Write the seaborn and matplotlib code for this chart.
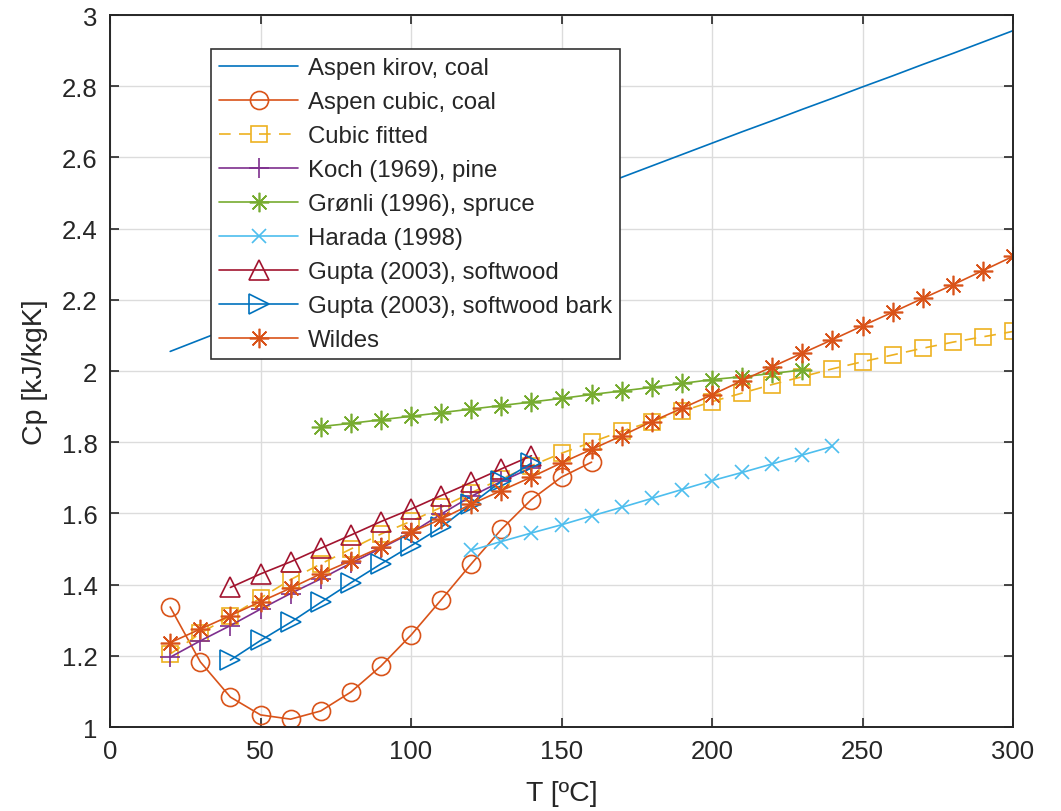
import numpy as np
import pandas as pd
import matplotlib
matplotlib.use("Agg")
import matplotlib.pyplot as plt
import seaborn as sns

# ---------------- data ----------------
T_kirov = [20, 30, 40, 50, 60, 70, 80, 90, 100, 110, 120, 130, 140, 150, 160,
           170, 180, 190, 200, 210, 220, 230, 240, 250, 260, 270, 280, 290, 300]
cp_kirov = [2.055, 2.088, 2.121, 2.154, 2.187, 2.220, 2.253, 2.286, 2.318, 2.351,
            2.383, 2.416, 2.448, 2.480, 2.512, 2.544, 2.576, 2.608, 2.640, 2.672,
            2.703, 2.735, 2.766, 2.798, 2.829, 2.861, 2.892, 2.924, 2.956]

T_cubic = [20, 30, 40, 50, 60, 70, 80, 90, 100, 110, 120, 130, 140, 150, 160]
cp_cubic = [1.337, 1.183, 1.084, 1.034, 1.022, 1.045, 1.098, 1.171, 1.258, 1.357,
            1.458, 1.555, 1.639, 1.702, 1.744]

T_fit = [20, 30, 40, 50, 60, 70, 80, 90, 100, 110, 120, 130, 140, 150, 160,
         170, 180, 190, 200, 210, 220, 230, 240, 250, 260, 270, 280, 290, 300]
cp_fit = [1.205, 1.263, 1.312, 1.362, 1.414, 1.458, 1.500, 1.542, 1.578, 1.617,
          1.658, 1.697, 1.734, 1.769, 1.800, 1.831, 1.858, 1.887, 1.914, 1.938,
          1.962, 1.984, 2.006, 2.026, 2.045, 2.064, 2.081, 2.096, 2.111]

T_koch = [20, 30, 40, 50, 60, 70, 80, 90, 100, 110, 120, 130, 140]
cp_koch = [1.196, 1.242, 1.285, 1.331, 1.375, 1.416, 1.460, 1.502, 1.545, 1.598,
           1.648, 1.690, 1.728]

T_gronli = [70, 80, 90, 100, 110, 120, 130, 140, 150, 160, 170, 180, 190, 200,
            210, 220, 230]
cp_gronli = [1.844, 1.853, 1.863, 1.873, 1.883, 1.893, 1.903, 1.913, 1.923, 1.934,
             1.944, 1.954, 1.965, 1.976, 1.984, 1.993, 2.003]

T_harada = [120, 130, 140, 150, 160, 170, 180, 190, 200, 210, 220, 230, 240]
cp_harada = [1.496, 1.521, 1.545, 1.568, 1.593, 1.617, 1.642, 1.667, 1.692, 1.715,
             1.739, 1.764, 1.788]

T_gupta = [40, 50, 60, 70, 80, 90, 100, 110, 120, 130, 140]
cp_gupta_soft = [1.392, 1.430, 1.464, 1.502, 1.539, 1.577, 1.612, 1.650, 1.687,
                 1.725, 1.762]
cp_gupta_bark = [1.188, 1.243, 1.294, 1.350, 1.405, 1.458, 1.509, 1.561, 1.626,
                 1.690, 1.741]

T_wildes = [20, 30, 40, 50, 60, 70, 80, 90, 100, 110, 120, 130, 140, 150, 160,
            170, 180, 190, 200, 210, 220, 230, 240, 250, 260, 270, 280, 290, 300]
cp_wildes = [1.237, 1.275, 1.313, 1.352, 1.390, 1.430, 1.467, 1.505, 1.547, 1.584,
             1.626, 1.664, 1.702, 1.742, 1.780, 1.818, 1.858, 1.895, 1.933, 1.973,
             2.012, 2.050, 2.088, 2.127, 2.165, 2.204, 2.242, 2.282, 2.322]

x_ticks = [0, 50, 100, 150, 200, 250, 300]
y_ticks = [1, 1.2, 1.4, 1.6, 1.8, 2, 2.2, 2.4, 2.6, 2.8, 3]

# ---------------- style ----------------
sns.set_style("ticks")
plt.rcParams['font.family'] = ['Liberation Sans', 'DejaVu Sans']

fig = plt.figure(figsize=(10.61, 8.12), dpi=100)
ax = fig.add_axes([110 / 1061, 1 - 728 / 812, 903 / 1061, 712 / 812])

star8 = (8, 2, 0)
series = [
    ("Aspen kirov, coal", T_kirov, cp_kirov, "#0072BD", None, 0, "-"),
    ("Aspen cubic, coal", T_cubic, cp_cubic, "#D95319", "o", 13, "-"),
    ("Cubic fitted", T_fit, cp_fit, "#EDB120", "s", 11.5, (0, (7, 5))),
    ("Koch (1969), pine", T_koch, cp_koch, "#7E2F8E", "+", 14, "-"),
    ("Grønli (1996), spruce", T_gronli, cp_gronli, "#77AC30", star8, 14, "-"),
    ("Harada (1998)", T_harada, cp_harada, "#4DBEEE", "x", 10, "-"),
    ("Gupta (2003), softwood", T_gupta, cp_gupta_soft, "#A2142F", "^", 14, "-"),
    ("Gupta (2003), softwood bark", T_gupta, cp_gupta_bark, "#0072BD", ">", 14, "-"),
    ("Wildes", T_wildes, cp_wildes, "#D95319", star8, 14, "-"),
]

for label, xs, ys, col, mk, ms, ls in series:
    df = pd.DataFrame({"T": xs, "cp": ys})
    kw = dict(x="T", y="cp", data=df, ax=ax, color=col, label=label,
              linewidth=1.2, linestyle=ls, errorbar=None, sort=False)
    if mk is not None:
        kw.update(marker=mk, markersize=ms, markerfacecolor="none",
                  markeredgecolor=col, markeredgewidth=1.2)
    sns.lineplot(**kw)

ax.set_xlim(0, 300)
ax.set_ylim(1, 3)
ax.set_xticks(x_ticks)
ax.set_yticks(y_ticks)
ax.set_yticklabels([f"{v:g}" for v in y_ticks])
ax.set_xticklabels([f"{v:g}" for v in x_ticks])
ax.grid(True, color="#dcdcdc", linewidth=1.0)
ax.set_axisbelow(True)

for s in ax.spines.values():
    s.set_visible(True)
    s.set_color("#262626")
    s.set_linewidth(1.4)
ax.tick_params(direction="in", length=6.5, width=1.2, colors="#262626",
               labelsize=18.5, top=True, right=True, pad=9)
for lab in ax.get_xticklabels() + ax.get_yticklabels():
    lab.set_color("#262626")

ax.set_xlabel("T [ºC]", fontsize=20.5, color="#262626", labelpad=12)
ax.set_ylabel("Cp [kJ/kgK]", fontsize=20.5, color="#262626", labelpad=10)

leg = ax.legend(loc="upper left", bbox_to_anchor=((211 - 110) / 903, (728 - 50) / 712),
                borderaxespad=0, fontsize=17.3, frameon=True, fancybox=False,
                framealpha=1, edgecolor="#333333", handlelength=3.3,
                labelspacing=0.5, borderpad=0.34, handletextpad=0.4)
leg.get_frame().set_linewidth(1.2)

fig.savefig("out.png", dpi=100)
